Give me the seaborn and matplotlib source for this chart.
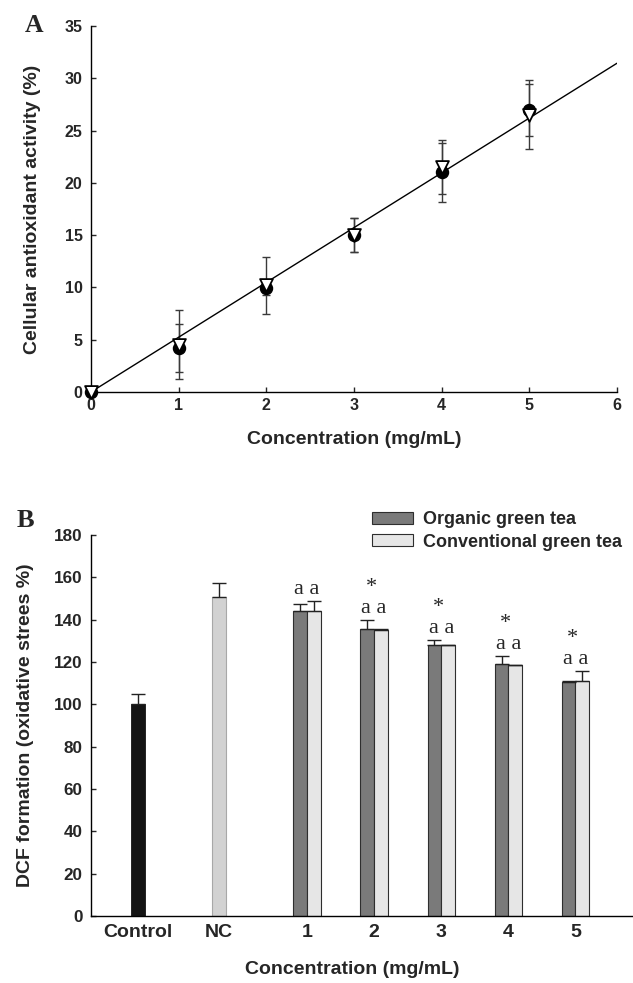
import numpy as np
import pandas as pd
import matplotlib
matplotlib.use("Agg")
import matplotlib.pyplot as plt
from matplotlib.patches import Patch
import seaborn as sns

# ---------------- Data: panel A ----------------
conc = [0, 1, 2, 3, 4, 5]
organic_caa = [0.0, 4.2, 9.9, 15.0, 21.0, 27.0]
organic_caa_sd = [0.0, 2.3, 0.6, 1.6, 2.8, 2.5]
conventional_caa = [0.0, 4.5, 10.2, 15.0, 21.5, 26.5]
conventional_caa_sd = [0.0, 3.3, 2.7, 1.6, 2.6, 3.3]

# ---------------- Data: panel B ----------------
categories = ["Control", "NC", "1", "2", "3", "4", "5"]
control_val, control_err = 100.0, 5.0
nc_val, nc_err = 150.5, 7.0
dose_labels = ["1", "2", "3", "4", "5"]
organic_dcf = [144.0, 135.5, 128.0, 119.0, 110.5]
organic_dcf_err = [3.5, 4.5, 2.5, 4.0, 0.7]
conventional_dcf = [144.0, 135.3, 128.0, 118.5, 110.8]
conventional_dcf_err = [5.0, 0.3, 0.2, 0.2, 5.0]
organic_letters = ["a", "a", "a", "a", "a"]
conventional_letters = ["a", "a", "a", "a", "a"]
star_marks = ["", "*", "*", "*", "*"]
series_names = ["Organic green tea", "Conventional green tea"]

sns.set_style("ticks")
SANS = ["Liberation Sans", "DejaVu Sans"]
SERIF = ["Liberation Serif", "DejaVu Serif"]
plt.rcParams["font.family"] = SANS
plt.rcParams["font.weight"] = "bold"

W, H = 633, 983
fig = plt.figure(figsize=(W / 100, H / 100), dpi=100)

# ================= Panel A =================
axA = fig.add_axes([91 / W, 1 - 392 / H, (617 - 91) / W, (392 - 26) / H])
dfA = pd.DataFrame({"conc": conc, "org": organic_caa, "conv": conventional_caa})

for vals, sds in [(organic_caa, organic_caa_sd), (conventional_caa, conventional_caa_sd)]:
    axA.errorbar(conc, vals, yerr=sds, fmt="none", ecolor="#3a3a3a",
                 elinewidth=1.0, capsize=3.2, capthick=1.0, zorder=2)

# linear fit through origin
xs = np.array(conc * 2, dtype=float)
ys = np.array(organic_caa + conventional_caa, dtype=float)
slope = np.sum(xs * ys) / np.sum(xs * xs)
xfit = np.array([0.0, 6.0])
sns.lineplot(x=xfit, y=slope * xfit, color="black", linewidth=1.0, ax=axA, zorder=3)

sns.scatterplot(data=dfA, x="conc", y="org", marker="o", s=75, color="black",
                edgecolor="black", linewidth=1, ax=axA, zorder=4, clip_on=False)
sns.scatterplot(data=dfA, x="conc", y="conv", marker="v", s=85, color="white",
                edgecolor="black", linewidth=1.3, ax=axA, zorder=5, clip_on=False)

axA.set_xlim(0, 6)
axA.set_ylim(0, 35)
axA.set_xticks(range(0, 7))
axA.set_yticks(range(0, 36, 5))
axA.tick_params(axis="both", direction="in", length=3.6, width=1, labelsize=11.5)
axA.tick_params(axis="x", pad=4.5)
axA.tick_params(axis="y", pad=6)
for lab in axA.get_xticklabels() + axA.get_yticklabels():
    lab.set_fontweight("bold")
axA.set_xlabel("Concentration (mg/mL)", fontsize=14, fontweight="bold", family=SANS)
axA.set_ylabel("Cellular antioxidant activity (%)", fontsize=14, fontweight="bold", family=SANS)
axA.xaxis.set_label_coords(0.5, (392 - 440) / 366)
axA.xaxis.label.set_va("center")
axA.yaxis.set_label_coords((33 - 91) / 526, 0.5)
axA.yaxis.label.set_va("center")
sns.despine(ax=axA)
for sp in ["left", "bottom"]:
    axA.spines[sp].set_linewidth(1.0)
    axA.spines[sp].set_color("black")

fig.text(25 / W, 1 - 32 / H, "A", fontsize=18.5, fontweight="bold",
         family=SERIF, va="baseline", ha="left")

# ================= Panel B =================
axB = fig.add_axes([91 / W, 1 - 916 / H, (W - 91) / W, (916 - 535) / H])

spacing = 0.98
unit_pos = [0.0, 1.18]
group_pos = [2.47 + spacing * i for i in range(len(dose_labels))]
bar_w = 0.2

sns.barplot(x=[unit_pos[0]], y=[control_val], native_scale=True, width=bar_w,
            color="#141414", edgecolor="#141414", linewidth=0.6, saturation=1, ax=axB)
sns.barplot(x=[unit_pos[1]], y=[nc_val], native_scale=True, width=bar_w,
            color="#d2d2d2", edgecolor="#a8a8a8", linewidth=0.8, saturation=1, ax=axB)

dfB = pd.DataFrame({
    "pos": group_pos * 2,
    "val": organic_dcf + conventional_dcf,
    "tea": [series_names[0]] * 5 + [series_names[1]] * 5,
})
pal = {series_names[0]: "#7a7a7a", series_names[1]: "#e6e6e6"}
sns.barplot(data=dfB, x="pos", y="val", hue="tea", hue_order=series_names, palette=pal,
            native_scale=True, width=2 * bar_w / spacing, edgecolor="#2e2e2e",
            linewidth=0.8, saturation=1, legend=False, ax=axB)

# error bars (upper only)
axB.errorbar(unit_pos, [control_val, nc_val], yerr=[[0, 0], [control_err, nc_err]],
             fmt="none", ecolor="#222222", elinewidth=1, capsize=5, capthick=1, zorder=5)
org_x = [p - bar_w / 2 for p in group_pos]
conv_x = [p + bar_w / 2 for p in group_pos]
axB.errorbar(org_x, organic_dcf, yerr=[[0] * 5, organic_dcf_err], fmt="none",
             ecolor="#222222", elinewidth=1, capsize=5, capthick=1, zorder=5)
axB.errorbar(conv_x, conventional_dcf, yerr=[[0] * 5, conventional_dcf_err], fmt="none",
             ecolor="#222222", elinewidth=1, capsize=5, capthick=1, zorder=5)

# significance letters, with the asterisk stacked above each pair
for i in range(5):
    top = max(organic_dcf[i] + organic_dcf_err[i], conventional_dcf[i] + conventional_dcf_err[i])
    base = top + 3.3
    pair = organic_letters[i] + " " + conventional_letters[i]
    label = (star_marks[i] + " \n" + pair) if star_marks[i] else pair
    axB.text(group_pos[i], base, label, ha="center", va="baseline", multialignment="center",
             linespacing=1.15, fontsize=16, fontweight="normal", family=SERIF)

axB.set_xlim(-0.686, 7.23)
axB.set_ylim(0, 180)
axB.set_xticks(unit_pos + group_pos)
axB.set_xticklabels(categories)
axB.set_yticks(range(0, 181, 20))
axB.tick_params(axis="y", direction="in", length=3.6, width=1, labelsize=12.3, pad=6)
axB.tick_params(axis="x", length=0, pad=6)
for lab in axB.get_yticklabels():
    lab.set_fontweight("bold")
for lab in axB.get_xticklabels():
    lab.set_fontweight("bold")
    lab.set_fontsize(14)
axB.set_xlabel("Concentration (mg/mL)", fontsize=14, fontweight="bold", family=SANS)
axB.set_ylabel("DCF formation (oxidative strees %)", fontsize=14, fontweight="bold",
               family=SANS)
axB.xaxis.set_label_coords((352 - 91) / 542, (916 - 969) / 381)
axB.xaxis.label.set_va("center")
axB.yaxis.set_label_coords((26 - 91) / 542, 0.5)
axB.yaxis.label.set_va("center")
sns.despine(ax=axB)
for sp in ["left", "bottom"]:
    axB.spines[sp].set_linewidth(1.0)
    axB.spines[sp].set_color("black")

handles = [Patch(facecolor=pal[n], edgecolor="#2e2e2e", linewidth=0.8) for n in series_names]
fig.legend(handles, series_names, loc="center left", bbox_to_anchor=(372 / W, 1 - 531 / H),
           frameon=False, handlelength=2.27, handleheight=0.65,
           handletextpad=0.55, labelspacing=0.3, borderpad=0, borderaxespad=0,
           prop={"weight": "bold", "size": 13, "family": SANS})

fig.text(17 / W, 1 - 527 / H, "B", fontsize=19, fontweight="bold",
         family=SERIF, va="baseline", ha="left")

fig.savefig("out.png", dpi=100)
